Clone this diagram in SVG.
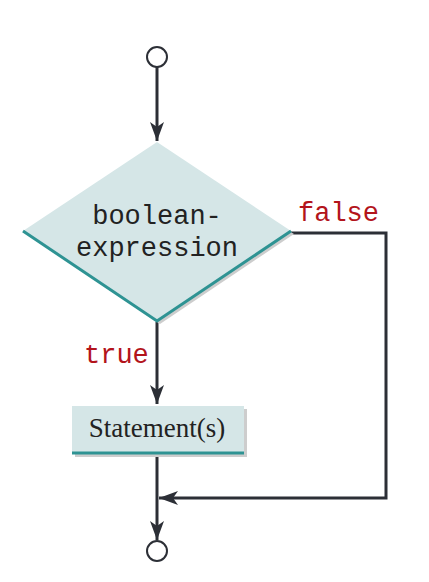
<svg xmlns="http://www.w3.org/2000/svg" width="429" height="582" viewBox="0 0 429 582">
<style>
.line{fill:none;stroke:#2c2f36;stroke-width:3}
.term{fill:#fff;stroke:#2c2f36;stroke-width:2}
.mono{font-family:"Liberation Mono","Courier New",monospace;font-size:27px}
.lbl{fill:#b3141b}
.node{fill:#d5e6e7}
.shadow{fill:#cdcdcd}
.edge{fill:none;stroke:#2e9393;stroke-width:3}
</style>
<defs>
<marker id="arr" markerUnits="userSpaceOnUse" markerWidth="24" markerHeight="20" viewBox="-20 -10 22 20" refX="0" refY="0" orient="auto">
<path d="M0,0 L-19,-7 L-14,0 L-19,7 Z" fill="#2c2f36"/>
</marker>
</defs>
<rect width="429" height="582" fill="#fff"/>
<g id="connectors">
<line class="line" x1="157" y1="67" x2="157" y2="141" marker-end="url(#arr)"/>
<line class="line" x1="157" y1="322" x2="157" y2="404" marker-end="url(#arr)"/>
<line class="line" x1="157" y1="455" x2="157" y2="540" marker-end="url(#arr)"/>
<polyline class="line" points="291,233 386,233 386,498 159,498" marker-end="url(#arr)"/>
<text class="mono lbl" x="298" y="221">false</text>
<text class="mono lbl" x="84" y="363">true</text>
</g>
<g id="start">
<circle class="term" cx="157" cy="57" r="10"/>
</g>
<g id="decision">
<polygon class="shadow" points="157,145 294,234 160,324 26,234"/>
<polygon class="node" points="157,142 291,231 157,321 23,231"/>
<polyline class="edge" points="23,231 157,321 291,231"/>
<text class="mono" x="157" y="224" text-anchor="middle" fill="#222">boolean-</text>
<text class="mono" x="157" y="256" text-anchor="middle" fill="#222">expression</text>
</g>
<g id="statement">
<rect class="shadow" x="75" y="409" width="172" height="48"/>
<rect class="node" x="72" y="406" width="172" height="48"/>
<line class="edge" x1="72" y1="453" x2="244" y2="453"/>
<text x="157" y="437" text-anchor="middle" font-family="Liberation Serif,'Times New Roman',serif" font-size="27" fill="#222">Statement(s)</text>
</g>
<g id="end">
<circle class="term" cx="157" cy="551" r="10"/>
</g>
</svg>
